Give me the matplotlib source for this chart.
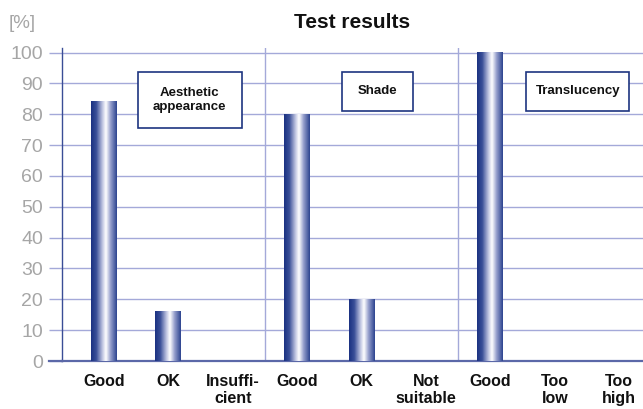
import numpy as np
import matplotlib.pyplot as plt
from matplotlib.colors import LinearSegmentedColormap
from matplotlib.patches import Rectangle

# data
categories = ['Good', 'OK', 'Insuffi-\ncient',
              'Good', 'OK', 'Not\nsuitable',
              'Good', 'Too\nlow', 'Too\nhigh']
values = [84, 16, 0, 80, 20, 0, 100, 0, 0]
groups = ['Aesthetic\nappearance', 'Shade', 'Translucency']
y_ticks = [0, 10, 20, 30, 40, 50, 60, 70, 80, 90, 100]

plt.rcParams['font.family'] = ['Liberation Sans', 'DejaVu Sans']

grid_col = '#a4a9d9'
navy = '#1e3580'

fig = plt.figure(figsize=(6.43, 4.09), dpi=100)
ax = fig.add_axes([62/643, 1 - 361/409, 1 - 62/643, (361 - 48)/409])

x = np.arange(len(categories))
bars = ax.bar(x, values, width=0.40, color='none', edgecolor='none', zorder=3)

# cylinder-like horizontal gradient on each bar
cmap = LinearSegmentedColormap.from_list('cyl', [
    (0.0, '#1b3282'), (0.2, '#3a4f98'), (0.45, '#c4c9e4'),
    (0.58, '#ffffff'), (0.75, '#9aa3cf'), (1.0, '#2e4590')])
grad = np.linspace(0, 1, 64).reshape(1, -1)
for b in bars:
    h = b.get_height()
    if h <= 0:
        continue
    x0 = b.get_x()
    ax.imshow(grad, cmap=cmap, aspect='auto', interpolation='bilinear',
              extent=(x0, x0 + b.get_width(), 0, h), zorder=3)

ax.set_xlim(-0.65, 8.37)
ax.set_ylim(0, 101.5)

ax.set_yticks(y_ticks)
ax.yaxis.grid(True, color=grid_col, linewidth=1.0, zorder=0)
ax.set_axisbelow(True)
ax.tick_params(axis='y', length=9.5, width=1.0, color=grid_col, pad=4,
               labelsize=14, labelcolor='#a6a6a6')

ax.set_xticks(x)
ax.set_xticklabels(categories, fontsize=11.5, fontweight='bold', color='#111111',
                   linespacing=1.2, va='top')
ax.tick_params(axis='x', length=0, pad=9)

for side in ['top', 'right']:
    ax.spines[side].set_visible(False)
ax.spines['left'].set_color('#3a4d96')
ax.spines['left'].set_linewidth(1.0)
ax.spines['bottom'].set_color('#5b68a8')
ax.spines['bottom'].set_linewidth(1.6)
ax.spines['bottom'].set_bounds(-0.65, 8.37)

# extend the zero line to the left like the ticks
ax.plot([-0.85, -0.65], [0, 0], color='#5b68a8', linewidth=1.6, clip_on=False, zorder=4)

# group separators
for sep in [2.5, 5.5]:
    ax.axvline(sep, color=grid_col, linewidth=1.0, zorder=1)

# group label boxes (center x, center y, width, height in data units)
box_specs = [(1.335, 84.7, 1.61, 18.2), (4.25, 87.5, 1.10, 12.7), (7.36, 87.5, 1.60, 12.7)]
for label, (cx, cy, w, h) in zip(groups, box_specs):
    ax.add_patch(Rectangle((cx - w / 2, cy - h / 2), w, h, facecolor='white',
                           edgecolor=navy, linewidth=1.2, zorder=5))
    ax.text(cx, cy, label, ha='center', va='center', fontsize=9.5,
            fontweight='bold', color='#111111', linespacing=1.25, zorder=6)

fig.text(352/643, 1 - 22/409, 'Test results', ha='center', va='center',
         fontsize=15, fontweight='bold', color='#111111')
fig.text(9/643, 1 - 24/409, '[%]', ha='left', va='center',
         fontsize=13.5, color='#a6a6a6')

fig.savefig('out.png', dpi=100)
